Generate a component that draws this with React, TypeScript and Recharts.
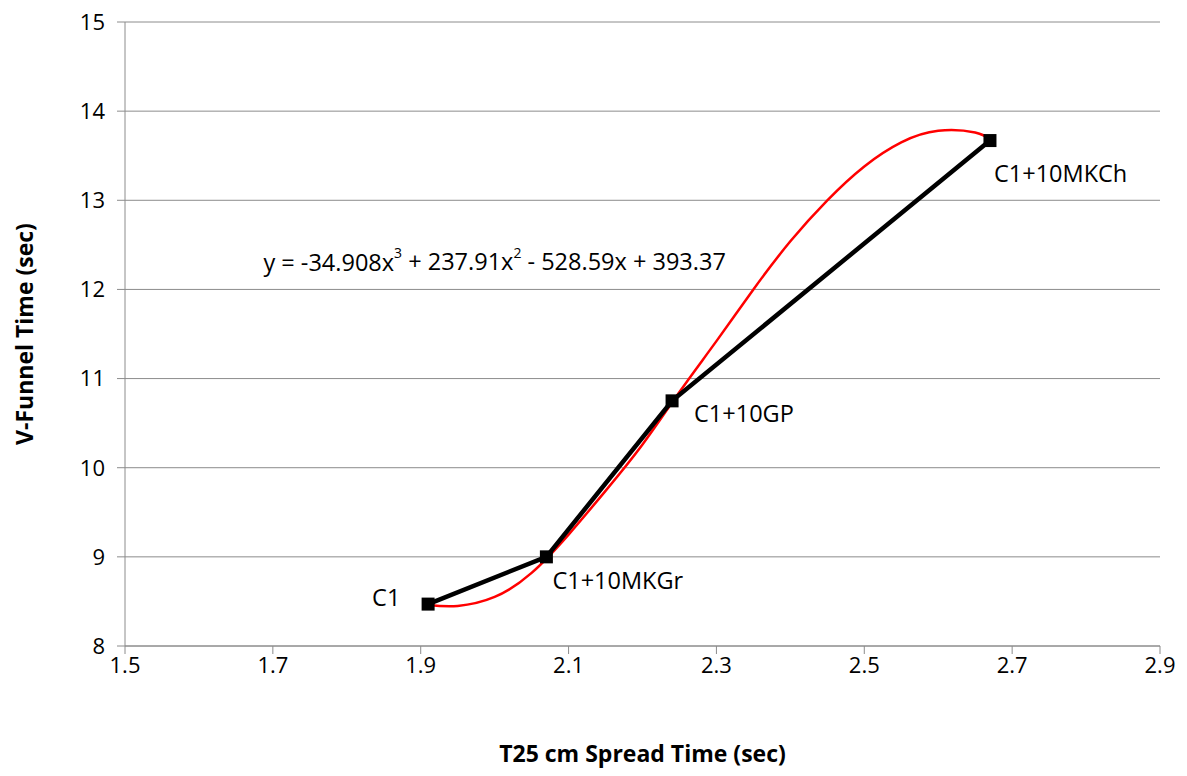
import {
  CartesianGrid,
  ComposedChart,
  LabelList,
  Line,
  ReferenceDot,
  Scatter,
  XAxis,
  YAxis,
} from "recharts";

// measured points
const mixNames = ["C1", "C1+10MKGr", "C1+10GP", "C1+10MKCh"];
const spreadTimes = [1.91, 2.07, 2.24, 2.67];
const funnelTimes = [8.47, 9.0, 10.75, 13.67];

// red trend curve
const trendX = [1.91, 1.95, 2.0, 2.05, 2.1, 2.15, 2.2, 2.25, 2.3, 2.35, 2.4, 2.45, 2.5, 2.55, 2.6, 2.65, 2.67];
const trendY = [8.46, 8.45, 8.55, 8.82, 9.25, 9.74, 10.26, 10.85, 11.42, 12.0, 12.54, 13.0, 13.38, 13.65, 13.78, 13.76, 13.68];

const xTicks = [1.5, 1.7, 1.9, 2.1, 2.3, 2.5, 2.7, 2.9];
const yTicks = [8, 9, 10, 11, 12, 13, 14, 15];

const points = spreadTimes.map((x, i) => ({ x, y: funnelTimes[i], name: mixNames[i] }));
const trend = trendX.map((x, i) => ({ x, y: trendY[i] }));

const FONT = "'Open Sans', 'Liberation Sans', sans-serif";
const GRID = "#8c8c8c";

const Square = (props: any) => (
  <rect x={props.cx - 6.5} y={props.cy - 6.5} width={13} height={13} fill="#000" />
);

// label offsets per point (C1 sits to the left, the rest below-right)
const labelOffsets = [
  { dx: -56, dy: 2 },
  { dx: 6, dy: 32 },
  { dx: 22, dy: 21 },
  { dx: 4, dy: 41 },
];

const PointLabel = (props: any) => {
  const { x, y, width, height, index, value } = props;
  const cx = x + (width || 0) / 2;
  const cy = y + (height || 0) / 2;
  const o = labelOffsets[index] || labelOffsets[1];
  return (
    <text x={cx + o.dx} y={cy + o.dy} fontFamily={FONT} fontSize={23.5} fill="#000">
      {value}
    </text>
  );
};

const Equation = (props: any) => (
  <text
    x={props.cx}
    y={props.cy}
    textAnchor="middle"
    dominantBaseline="middle"
    fontFamily={FONT}
    fontSize={23.5}
    fill="#000"
  >
    y = -34.908x<tspan dy={-10} fontSize={14}>3</tspan>
    <tspan dy={10}> + 237.91x</tspan>
    <tspan dy={-10} fontSize={14}>2</tspan>
    <tspan dy={10}> - 528.59x + 393.37</tspan>
  </text>
);

const titleStyle = { fontFamily: FONT, fontSize: 23, fontWeight: 700, fill: "#000" };

export default function App() {
  return (
    <div style={{ position: "absolute", left: 0, top: 0, background: "#fff" }}>
      <ComposedChart
        width={1187}
        height={776}
        margin={{ top: 22, right: 27, bottom: 100, left: 65 }}
      >
        <CartesianGrid vertical={false} stroke={GRID} strokeWidth={1} />
        <XAxis
          type="number"
          dataKey="x"
          domain={[1.5, 2.9]}
          ticks={xTicks}
          tickFormatter={(v: number) => v.toFixed(1)}
          stroke={GRID}
          tickSize={8}
          tick={{ fill: "#000", fontSize: 22, fontFamily: FONT }}
          tickMargin={3}
          height={30}
          allowDataOverflow
          label={{
            value: "T25 cm Spread Time (sec)",
            position: "insideBottom",
            offset: -86,
            style: titleStyle,
          }}
        />
        <YAxis
          type="number"
          dataKey="y"
          domain={[8, 15]}
          ticks={yTicks}
          stroke={GRID}
          tickSize={8}
          tick={{ fill: "#000", fontSize: 22, fontFamily: FONT }}
          tickMargin={12}
          width={60}
          allowDataOverflow
          label={{
            value: "V-Funnel Time (sec)",
            angle: -90,
            position: "insideLeft",
            offset: -40,
            style: { ...titleStyle, textAnchor: "middle" },
          }}
        />
        <Scatter
          data={points}
          fill="#000"
          line={{ stroke: "#000", strokeWidth: 4.5 }}
          shape={Square}
          isAnimationActive={false}
        >
          <LabelList dataKey="name" content={PointLabel} />
        </Scatter>
        <Line
          data={trend}
          dataKey="y"
          type="natural"
          stroke="#ff0000"
          strokeWidth={2.5}
          dot={false}
          activeDot={false}
          isAnimationActive={false}
        />
        <ReferenceDot x={2.0} y={12.28} r={0} shape={Equation} />
      </ComposedChart>
    </div>
  );
}
